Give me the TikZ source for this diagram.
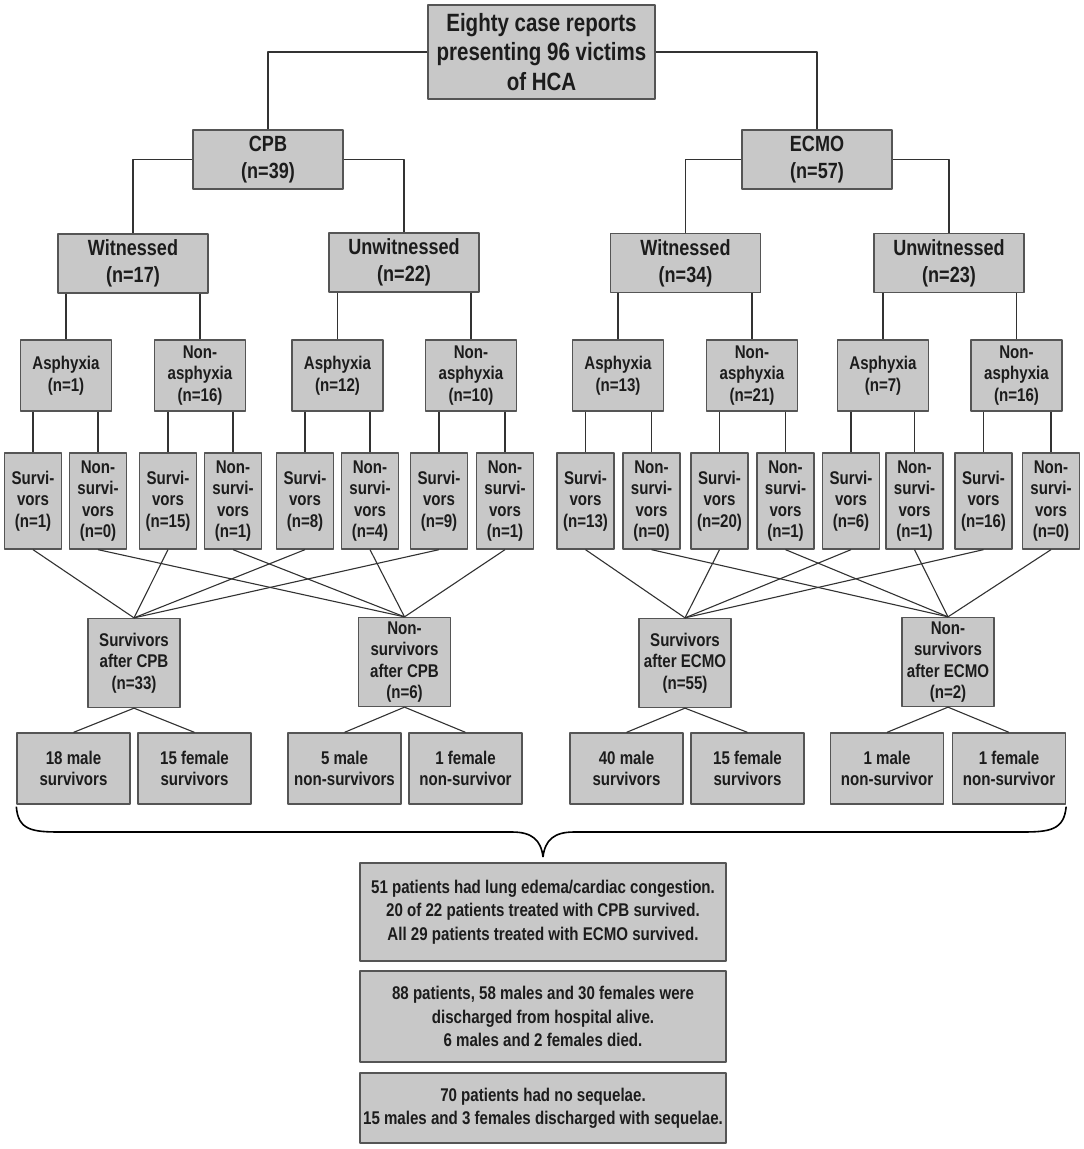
\documentclass[tikz,border=0pt]{standalone}
\usepackage{fontspec}
\setmainfont{Liberation Sans}[FakeStretch=0.82]
\usepackage{tikz}
\usetikzlibrary{calc}
\definecolor{boxfill}{RGB}{200,200,200}
\definecolor{boxline}{RGB}{85,85,85}
\definecolor{wirecol}{RGB}{50,50,50}
\definecolor{inkcol}{RGB}{28,28,28}

\begin{document}
\begin{tikzpicture}[x=1pt,y=-1pt,line join=bevel,
  box/.style={draw=boxline,fill=boxfill,line width=1.3pt,inner sep=0pt,align=center,text=inkcol},
  bigtxt/.style={font=\bfseries\fontsize{25}{29.5}\selectfont},
  midtxt/.style={font=\bfseries\fontsize{22}{26.7}\selectfont},
  smalltxt/.style={font=\bfseries\fontsize{18.4}{21.5}\selectfont},
  notetxt/.style={font=\bfseries\fontsize{18.4}{23.3}\selectfont},
  lvltwo/.style={box,midtxt,minimum width=150,minimum height=59},
  cause/.style={box,smalltxt,minimum width=91,minimum height=71},
  fate/.style={box,smalltxt,minimum width=57,minimum height=96},
  after/.style={box,smalltxt,minimum width=92,minimum height=89},
  sex/.style={box,smalltxt,minimum width=113,minimum height=71},
  note/.style={box,notetxt,minimum width=366},
  wire/.style={draw=wirecol,line width=1.1pt},
  brace/.style={draw=black,line width=1.6pt}]
\fill [white] (0,0) rectangle (1084,1149);
\useasboundingbox (0,0) rectangle (1084,1149);
%%
\node (top) at (541.5,52) [box,bigtxt,minimum width=227,minimum height=94] {Eighty case reports\\presenting 96 victims\\of HCA};
  \node (cpb) at (268,159.5) [lvltwo] {CPB\\(n=39)};
  \node (ecmo) at (817,159.5) [lvltwo] {ECMO\\(n=57)};
  \node (cw) at (133,263.5) [lvltwo] {Witnessed\\(n=17)};
  \node (cu) at (404,262.5) [lvltwo] {Unwitnessed\\(n=22)};
  \node (ew) at (685.5,263) [lvltwo] {Witnessed\\(n=34)};
  \node (eu) at (949,263) [lvltwo] {Unwitnessed\\(n=23)};
%
  \node (ca1) at (66,375.5) [cause] {Asphyxia\\(n=1)};
  \node (cn1) at (200,375.5) [cause] {Non-\\asphyxia\\(n=16)};
  \node (ca2) at (337.5,375.5) [cause] {Asphyxia\\(n=12)};
  \node (cn2) at (471,375.5) [cause] {Non-\\asphyxia\\(n=10)};
  \node (ea1) at (618,375.5) [cause] {Asphyxia\\(n=13)};
  \node (en1) at (752,375.5) [cause] {Non-\\asphyxia\\(n=21)};
  \node (ea2) at (883,375.5) [cause] {Asphyxia\\(n=7)};
  \node (en2) at (1016.5,375.5) [cause] {Non-\\asphyxia\\(n=16)};
%
  \node (c1) at (33,501) [fate] {Survi-\\vors\\(n=1)};
  \node (c2) at (98,501) [fate] {Non-\\survi-\\vors\\(n=0)};
  \node (c3) at (168,501) [fate] {Survi-\\vors\\(n=15)};
  \node (c4) at (233,501) [fate] {Non-\\survi-\\vors\\(n=1)};
  \node (c5) at (305,501) [fate] {Survi-\\vors\\(n=8)};
  \node (c6) at (370,501) [fate] {Non-\\survi-\\vors\\(n=4)};
  \node (c7) at (439,501) [fate] {Survi-\\vors\\(n=9)};
  \node (c8) at (505,501) [fate] {Non-\\survi-\\vors\\(n=1)};
  \node (e1) at (585.5,501) [fate] {Survi-\\vors\\(n=13)};
  \node (e2) at (651.5,501) [fate] {Non-\\survi-\\vors\\(n=0)};
  \node (e3) at (719.5,501) [fate] {Survi-\\vors\\(n=20)};
  \node (e4) at (785.5,501) [fate] {Non-\\survi-\\vors\\(n=1)};
  \node (e5) at (851,501) [fate] {Survi-\\vors\\(n=6)};
  \node (e6) at (914.5,501) [fate] {Non-\\survi-\\vors\\(n=1)};
  \node (e7) at (983.5,501) [fate] {Survi-\\vors\\(n=16)};
  \node (e8) at (1051,501) [fate] {Non-\\survi-\\vors\\(n=0)};
%
  \node (csv) at (134,663) [after] {Survivors\\after CPB\\(n=33)};
  \node (cns) at (404.5,662) [after] {Non-\\survivors\\after CPB\\(n=6)};
  \node (esv) at (685,663) [after] {Survivors\\after ECMO\\(n=55)};
  \node (ens) at (948,662) [after] {Non-\\survivors\\after ECMO\\(n=2)};
%
  \node (cm1) at (73.5,768.5) [sex] {18 male\\survivors};
  \node (cf1) at (194.5,768.5) [sex] {15 female\\survivors};
  \node (cm2) at (344.5,768.5) [sex] {5 male\\non-survivors};
  \node (cf2) at (465.5,768.5) [sex] {1 female\\non-survivor};
  \node (em1) at (626.5,768.5) [sex] {40 male\\survivors};
  \node (ef1) at (747.5,768.5) [sex] {15 female\\survivors};
  \node (em2) at (887,768.5) [sex] {1 male\\non-survivor};
  \node (ef2) at (1009,768.5) [sex] {1 female\\non-survivor};
%
  \node (n1) at (543,912) [note,minimum height=98] {51 patients had lung edema/cardiac congestion.\\20 of 22 patients treated with CPB survived.\\All 29 patients treated with ECMO survived.};
  \node (n2) at (543,1016.5) [note,minimum height=91] {88 patients, 58 males and 30 females were\\discharged from hospital alive.\\6 males and 2 females died.};
  \node (n3) at (543,1108) [note,minimum height=70] {70 patients had no sequelae.\\15 males and 3 females discharged with sequelae.};
%
  \draw [wire] (top.west) -| (cpb.north);
  \draw [wire] (top.east) -| (ecmo.north);
  \draw [wire] (cpb.west) -| (cw.north);
  \draw [wire] (cpb.east) -| (cu.north);
  \draw [wire] (ecmo.west) -| (ew.north);
  \draw [wire] (ecmo.east) -| (eu.north);
%
  \draw [wire] (cw.south -| ca1.north) -- (ca1.north);
  \draw [wire] (cw.south -| cn1.north) -- (cn1.north);
  \draw [wire] (cu.south -| ca2.north) -- (ca2.north);
  \draw [wire] (cu.south -| cn2.north) -- (cn2.north);
  \draw [wire] (ew.south -| ea1.north) -- (ea1.north);
  \draw [wire] (ew.south -| en1.north) -- (en1.north);
  \draw [wire] (eu.south -| ea2.north) -- (ea2.north);
  \draw [wire] (eu.south -| en2.north) -- (en2.north);
%
  \draw [wire] (ca1.south -| c1.north) -- (c1.north);
  \draw [wire] (ca1.south -| c2.north) -- (c2.north);
  \draw [wire] (cn1.south -| c3.north) -- (c3.north);
  \draw [wire] (cn1.south -| c4.north) -- (c4.north);
  \draw [wire] (ca2.south -| c5.north) -- (c5.north);
  \draw [wire] (ca2.south -| c6.north) -- (c6.north);
  \draw [wire] (cn2.south -| c7.north) -- (c7.north);
  \draw [wire] (cn2.south -| c8.north) -- (c8.north);
  \draw [wire] (ea1.south -| e1.north) -- (e1.north);
  \draw [wire] (ea1.south -| e2.north) -- (e2.north);
  \draw [wire] (en1.south -| e3.north) -- (e3.north);
  \draw [wire] (en1.south -| e4.north) -- (e4.north);
  \draw [wire] (ea2.south -| e5.north) -- (e5.north);
  \draw [wire] (ea2.south -| e6.north) -- (e6.north);
  \draw [wire] (en2.south -| e7.north) -- (e7.north);
  \draw [wire] (en2.south -| e8.north) -- (e8.north);
%
  \draw [wire] (c1.south) -- (csv.north);
  \draw [wire] (c3.south) -- (csv.north);
  \draw [wire] (c5.south) -- (csv.north);
  \draw [wire] (c7.south) -- (csv.north);
  \draw [wire] (c2.south) -- (cns.north);
  \draw [wire] (c4.south) -- (cns.north);
  \draw [wire] (c6.south) -- (cns.north);
  \draw [wire] (c8.south) -- (cns.north);
  \draw [wire] (e1.south) -- (esv.north);
  \draw [wire] (e3.south) -- (esv.north);
  \draw [wire] (e5.south) -- (esv.north);
  \draw [wire] (e7.south) -- (esv.north);
  \draw [wire] (e2.south) -- (ens.north);
  \draw [wire] (e4.south) -- (ens.north);
  \draw [wire] (e6.south) -- (ens.north);
  \draw [wire] (e8.south) -- (ens.north);
%
  \draw [wire] (csv.south) -- (cm1.north);
  \draw [wire] (csv.south) -- (cf1.north);
  \draw [wire] (cns.south) -- (cm2.north);
  \draw [wire] (cns.south) -- (cf2.north);
  \draw [wire] (esv.south) -- (em1.north);
  \draw [wire] (esv.south) -- (ef1.north);
  \draw [wire] (ens.south) -- (em2.north);
  \draw [wire] (ens.south) -- (ef2.north);
%
  \coordinate (bl) at ($(cm1.south west)+(0,2)$);
  \coordinate (br) at ($(ef2.south east)+(0,2)$);
  \coordinate (tip) at (543,857);
  \draw [brace] (bl) ..controls (18,830) and (32,832) .. (60,832) -- (512,832)
    ..controls (532,832) and (541,840) .. (tip)
    ..controls (545,840) and (554,832) .. (574,832) -- (1022,832)
    ..controls (1050,832) and (1064,830) .. (br);
%
\end{tikzpicture}
\end{document}
